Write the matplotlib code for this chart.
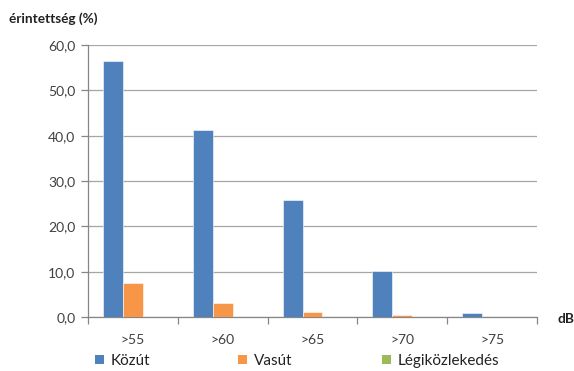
import matplotlib
matplotlib.use("Agg")
import matplotlib.pyplot as plt
from matplotlib.patches import Patch
import numpy as np

plt.rcParams['font.family'] = ['Lato', 'DejaVu Sans']

categories = [">55", ">60", ">65", ">70", ">75"]
series_names = ["Közút", "Vasút", "Légiközlekedés"]
kozut = [56.5, 41.3, 25.8, 10.1, 0.9]
vasut = [7.6, 3.1, 1.2, 0.5, 0.0]
legi = [0.0, 0.0, 0.0, 0.0, 0.0]
yticks = [0, 10, 20, 30, 40, 50, 60]
colors = ["#4F81BD", "#F79646", "#9BBB59"]

fig = plt.figure(figsize=(5.74, 3.71), dpi=100)
ax = fig.add_axes([88/574, 1-317/371, (537-88)/574, (317-45)/371])

x = np.arange(len(categories))
w = 0.222
for i, (vals, c) in enumerate(zip([kozut, vasut, legi], colors)):
    ax.bar(x + (i-1)*w, vals, width=w, color=c, edgecolor="white", linewidth=0.4, zorder=3)

ax.set_xlim(-0.5, len(categories)-0.5)
ax.set_ylim(0, 60)
ax.set_yticks(yticks)
ax.set_yticklabels([f"{v:.1f}".replace(".", ",") for v in yticks], fontsize=10, color="#404040")
ax.yaxis.grid(True, color="#A6A6A6", linewidth=0.9, zorder=0)
ax.set_xticks(x)
ax.set_xticklabels(categories, fontsize=10, color="#404040")
ax.set_xticks(np.arange(-0.5, len(categories), 1), minor=True)
ax.tick_params(axis="x", which="major", length=0, pad=12)
ax.tick_params(axis="x", which="minor", length=5, color="#868686", width=0.9)
ax.tick_params(axis="y", length=5, color="#868686", width=0.9, pad=4)

for s in ["top", "right"]:
    ax.spines[s].set_visible(False)
for s in ["left", "bottom"]:
    ax.spines[s].set_color("#868686")
    ax.spines[s].set_linewidth(0.9)

fig.text(9/574, 1-19/371, "érintettség (%)", fontsize=9.8, fontweight="bold", va="center", ha="left", color="#222222")
fig.text(557/574, 1-319/371, "dB", fontsize=9.8, fontweight="bold", va="center", ha="left", color="#222222")

# one legend entry per series, spaced evenly along the bottom
legend_x = [95, 238, 382]
for name, c, lx in zip(series_names, colors, legend_x):
    leg = fig.legend([Patch(facecolor=c, edgecolor="none")], [name], loc="center left",
                     bbox_to_anchor=(lx/574, 1-361/371), frameon=False, fontsize=11,
                     handlelength=0.6, handleheight=0.6, handletextpad=0.45,
                     borderaxespad=0, borderpad=0)
    for t in leg.get_texts():
        t.set_color("#222222")

fig.savefig("out.png", dpi=100)
